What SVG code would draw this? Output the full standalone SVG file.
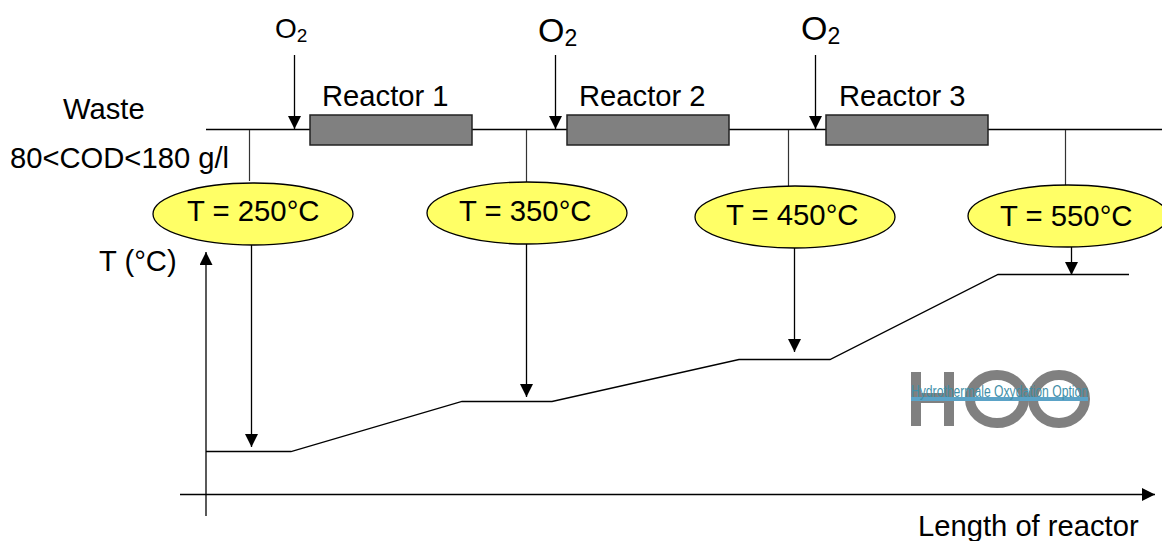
<svg xmlns="http://www.w3.org/2000/svg" width="1162" height="541" viewBox="0 0 1162 541">
<style>
text{font-family:"Liberation Sans",Arial,sans-serif;fill:#000}
.t{font-size:29.300px}.m{font-size:29.200px}
.l{stroke:#000;stroke-width:1.3;fill:none}
.g{stroke:#333;stroke-width:1.2;fill:none}
.r{fill:#808080;stroke:#222;stroke-width:1.5}
.e{fill:#ffff66;stroke:#000;stroke-width:1.3}
.logo{fill:none;stroke:#808080;stroke-width:10}
</style>
<defs><marker id="a" markerUnits="userSpaceOnUse" markerWidth="14" markerHeight="14" refX="13" refY="6.5" orient="auto"><path d="M0 0L13 6.5L0 13Z" fill="#000"/></marker></defs>
<rect width="1162" height="541" fill="#fff"/>
<g id="connectors">
<path class="l" d="M206 129.500H310M472 129.500H567M729 129.500H826M988 129.500H1162"/>
<path class="g" d="M249.500 130V181M526.500 130V183M788.500 130V186M1065.500 130V186"/>
<path class="l" marker-end="url(#a)" d="M294.500 55V129"/>
<path class="l" marker-end="url(#a)" d="M555.500 55V129"/>
<path class="l" marker-end="url(#a)" d="M815.500 55V129"/>
<path class="l" marker-end="url(#a)" d="M251.500 245V447"/>
<path class="l" marker-end="url(#a)" d="M526.500 244V397"/>
<path class="l" marker-end="url(#a)" d="M794.500 248V352"/>
<path class="l" marker-end="url(#a)" d="M1071.500 247V275"/>
<path class="l" marker-end="url(#a)" d="M206 516V252"/>
<path class="l" marker-end="url(#a)" d="M180 494.500H1155"/>
<path class="l" d="M206 451.500H291L462 401.500H552L739 359.500H830L998 274.500H1129"/>
</g>
<g id="label-waste"><text class="m" x="63" y="119">Waste</text><text class="m" x="10" y="168">80&lt;COD&lt;180 g/l</text></g>
<g id="o2-1"><text x="275" y="38" font-size="28">O<tspan font-size="19" dy="4">2</tspan></text></g>
<g id="o2-2"><text x="538" y="42" font-size="34">O<tspan font-size="23" dy="4">2</tspan></text></g>
<g id="o2-3"><text x="801" y="40" font-size="34">O<tspan font-size="23" dy="4">2</tspan></text></g>
<g id="reactor-1"><rect class="r" x="310" y="115" width="162" height="30"/><text class="m" x="322" y="106">Reactor 1</text></g>
<g id="reactor-2"><rect class="r" x="567" y="115" width="162" height="30"/><text class="m" x="579" y="106">Reactor 2</text></g>
<g id="reactor-3"><rect class="r" x="826" y="115" width="162" height="30"/><text class="m" x="839" y="106">Reactor 3</text></g>
<g id="temp-250"><ellipse class="e" cx="253" cy="214" rx="100" ry="31"/><text class="t" x="187" y="221">T = 250°C</text></g>
<g id="temp-350"><ellipse class="e" cx="527" cy="213" rx="100" ry="31"/><text class="t" x="459" y="221">T = 350°C</text></g>
<g id="temp-450"><ellipse class="e" cx="795" cy="217" rx="100" ry="31"/><text class="t" x="726" y="225">T = 450°C</text></g>
<g id="temp-550"><ellipse class="e" cx="1068" cy="216" rx="100" ry="31"/><text class="t" x="1000" y="226">T = 550°C</text></g>
<g id="axis-labels"><text class="m" x="99" y="271">T (°C)</text><text class="m" x="918" y="536">Length of reactor</text></g>
<g id="logo">
<path class="logo" d="M916 372V426M949 372V426M916 398H949"/>
<ellipse class="logo" cx="997" cy="399" rx="27" ry="24"/>
<ellipse class="logo" cx="1059" cy="399" rx="26" ry="24"/>
<rect x="911" y="397" width="177" height="4" fill="#5ba3c7"/>
<text x="911" y="397" font-size="16" style="fill:#3f8fa8" textLength="177" lengthAdjust="spacingAndGlyphs">Hydrothermale Oxydation Option</text>
</g>
</svg>
